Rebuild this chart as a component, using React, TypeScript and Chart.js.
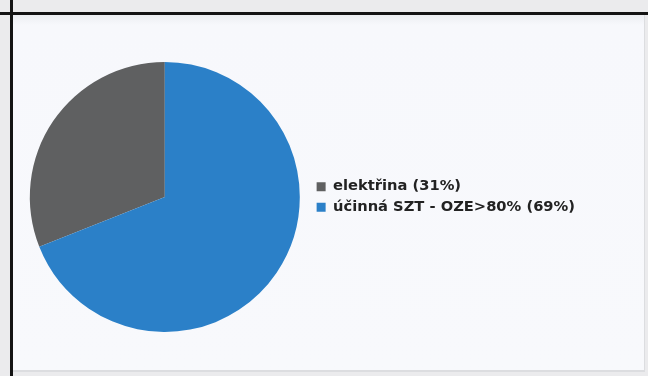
import React, { useEffect, useRef } from "react";
import { Chart, registerables } from "chart.js";

Chart.register(...registerables);

const categories: string[] = ["elektřina", "účinná SZT - OZE>80%"];
const shares: number[] = [31, 69];
const sliceColors: string[] = ["#5f6061", "#2b80c8"];

export default function App() {
  const ref = useRef<HTMLCanvasElement | null>(null);

  useEffect(() => {
    document.body.style.margin = "0";
    if (!ref.current) return;
    const total = shares.reduce((a, b) => a + b, 0);
    const rotation = (shares.slice(1).reduce((a, b) => a + b, 0) / total) * 360;
    const chart = new Chart(ref.current, {
      type: "pie",
      data: {
        labels: categories.map((c, i) => `${c} (${shares[i]}%)`),
        datasets: [
          {
            data: shares,
            backgroundColor: sliceColors,
            borderWidth: 0,
          },
        ],
      },
      options: {
        animation: false,
        responsive: false,
        rotation,
        layout: { padding: { left: 19, top: 62, bottom: 44, right: 63 } },
        plugins: {
          tooltip: { enabled: false },
          legend: {
            position: "right",
            labels: {
              boxWidth: 9,
              boxHeight: 9,
              padding: 6,
              color: "#222",
              font: { family: "DejaVu Sans", size: 14.7, weight: "bold" },
            },
          },
        },
      },
    });
    return () => chart.destroy();
  }, []);

  return (
    <div style={{ position: "relative", width: 648, height: 376, background: "#ebebed", overflow: "hidden" }}>
      <div style={{ position: "absolute", left: 13, top: 15, width: 631, height: 355, background: "linear-gradient(#eceef2 0px, #f7f8fc 10px, #f8f9fc 100%)", borderRight: "1px solid #dcdde0", borderBottom: "2px solid #dcdde0" }} />
      <div style={{ position: "absolute", left: 0, top: 12, width: 648, height: 3, background: "#141414" }} />
      <div style={{ position: "absolute", left: 10, top: 0, width: 3, height: 376, background: "#141414" }} />
      <canvas ref={ref} width={648} height={376} style={{ position: "absolute", left: 0, top: 0 }} />
    </div>
  );
}
